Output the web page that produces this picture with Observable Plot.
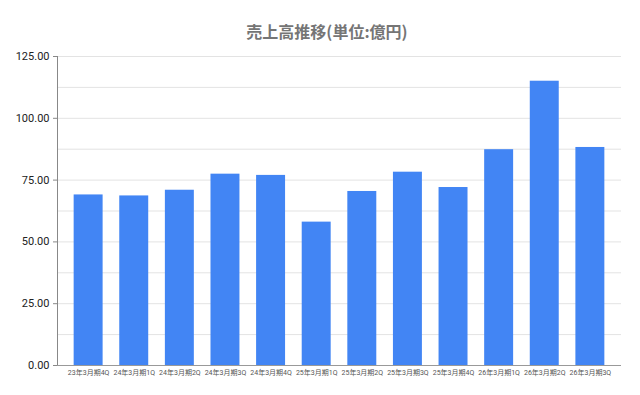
<!DOCTYPE html>
<html>
<head>
<meta charset="utf-8">
<script src="https://cdn.jsdelivr.net/npm/d3@7"></script>
<script src="https://cdn.jsdelivr.net/npm/@observablehq/plot@0.6"></script>
<style>
  html, body { margin: 0; padding: 0; background: #fff; }
  body { width: 640px; height: 395px; overflow: hidden; font-family: Roboto, "Noto Sans CJK JP", sans-serif; }
  #title { height: 50px; line-height: 62px; text-align: center; font-size: 16px; font-weight: bold; color: #757575; padding-left: 14px; box-sizing: border-box; font-family: "Noto Sans CJK JP", sans-serif; }
</style>
</head>
<body>
<div id="title">売上高推移(単位:億円)</div>
<div id="chart"></div>
<script>
const categories = ["23年3月期4Q", "24年3月期1Q", "24年3月期2Q", "24年3月期3Q", "24年3月期4Q", "25年3月期1Q", "25年3月期2Q", "25年3月期3Q", "25年3月期4Q", "26年3月期1Q", "26年3月期2Q", "26年3月期3Q"];
const sales = [69.0, 68.6, 70.9, 77.4, 76.9, 58.0, 70.4, 78.2, 72.0, 87.3, 115.0, 88.2];
const yTicks = [0, 25, 50, 75, 100, 125];
const yGrid = [0, 12.5, 25, 37.5, 50, 62.5, 75, 87.5, 100, 112.5, 125];

const data = categories.map((c, i) => ({ category: c, value: sales[i] }));

const chart = Plot.plot({
  width: 640,
  height: 345,
  marginLeft: 57,
  marginRight: 19,
  marginTop: 6,
  marginBottom: 30,
  style: { fontFamily: 'Roboto, "Noto Sans CJK JP", sans-serif', background: "#fff" },
  x: { domain: categories, padding: 0.365, round: false, label: null },
  y: { domain: [0, 125], label: null },
  marks: [
    Plot.gridY(yGrid, { stroke: "#e3e3e3", strokeOpacity: 1 }),
    Plot.barY(data, { x: "category", y: "value", fill: "#4285f4" }),
    Plot.axisY(yTicks, { tickFormat: d => d.toFixed(2), tickSize: 4, tickPadding: 4, stroke: "#888", fill: "#222", fontSize: 11, label: null }),
    Plot.axisX({ tickSize: 0, tickPadding: 5, fontSize: 7, fill: "#555", label: null }),
    Plot.frame({ anchor: "left", stroke: "#888" }),
    Plot.ruleY([0], { stroke: "#999" })
  ]
});
document.getElementById("chart").appendChild(chart);
</script>
</body>
</html>
